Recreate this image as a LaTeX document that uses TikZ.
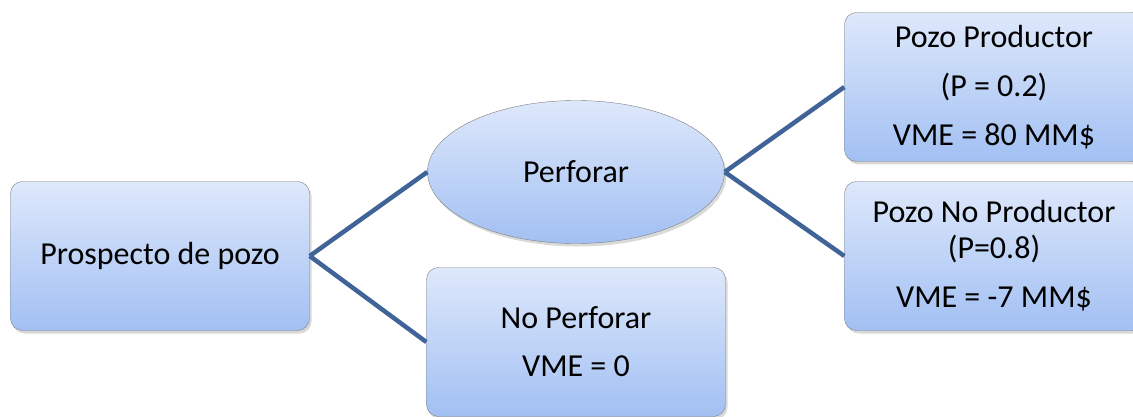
\documentclass[tikz,border=0pt]{standalone}
\usepackage{fontspec}
\setmainfont{Carlito}
\usetikzlibrary{shapes.geometric,shadows}

\definecolor  {borderColor}{RGB}{128, 128, 128}
\definecolor    {edgeColor}{RGB}{ 64, 100, 152}
\definecolor {topFillColor}{RGB}{222, 232, 251}
\definecolor{lowFillColor}{RGB}{162, 192, 243}

\begin{document}
\begin{tikzpicture}[
  x=1pt, y=-1pt,
  tree shade/.style  ={draw=borderColor, top color=topFillColor, bottom color=lowFillColor,
                       inner sep=0pt, align=center, font=\fontsize{32}{36}\selectfont,
                       drop shadow={opacity=.3, shadow xshift=2pt, shadow yshift=-3pt}},
  tree box/.style    ={tree shade, rounded corners=12pt, minimum width=299pt, minimum height=149pt},
  tree choice/.style ={tree shade, ellipse, minimum width=297pt, minimum height=143pt},
  tree branch/.style ={draw=edgeColor, line width=4.5pt},
]
%%%%%%%%%%%%%%%%%%%%%%%%%%%%%%%%%%%%%%%%%%%%%%%%%%%%%%%%%%%%%%%%%%%%%%%%%%%%%%%%%%%%%%%%%
%
%   NODES
%
%%%%%%%%%%%%%%%%%%%%%%%%%%%%%%%%%%%%%%%%%%%%%%%%%%%%%%%%%%%%%%%%%%%%%%%%%%%%%%%%%%%%%%%%%
\useasboundingbox (0,0) rectangle (1133,417);

\node[tree box]    (prospecto)   at ( 160, 256) {Prospecto de pozo};
\node[tree choice] (perforar)    at ( 576, 172) {Perforar};
\node[tree box]    (noperforar)  at ( 576, 342) {No Perforar\\[12pt]VME = 0};
\node[tree box]    (productor)   at ( 994,  87) {Pozo Productor\\[13pt](P = 0.2)\\[13pt]VME = 80 MM\$};
\node[tree box]    (noproductor) at ( 994, 256) {Pozo No Productor\\(P=0.8)\\[13pt]VME = -7 MM\$};

%%%%%%%%%%%%%%%%%%%%%%%%%%%%%%%%%%%%%%%%%%%%%%%%%%%%%%%%%%%%%%%%%%%%%%%%%%%%%%%%%%%%%%%%%
%
%   BRANCHES
%
%%%%%%%%%%%%%%%%%%%%%%%%%%%%%%%%%%%%%%%%%%%%%%%%%%%%%%%%%%%%%%%%%%%%%%%%%%%%%%%%%%%%%%%%%
\foreach \from/\to in {prospecto/perforar, prospecto/noperforar,
                       perforar/productor, perforar/noproductor}
  \draw[tree branch] (\from.east) -- (\to.west);

\end{tikzpicture}
\end{document}
